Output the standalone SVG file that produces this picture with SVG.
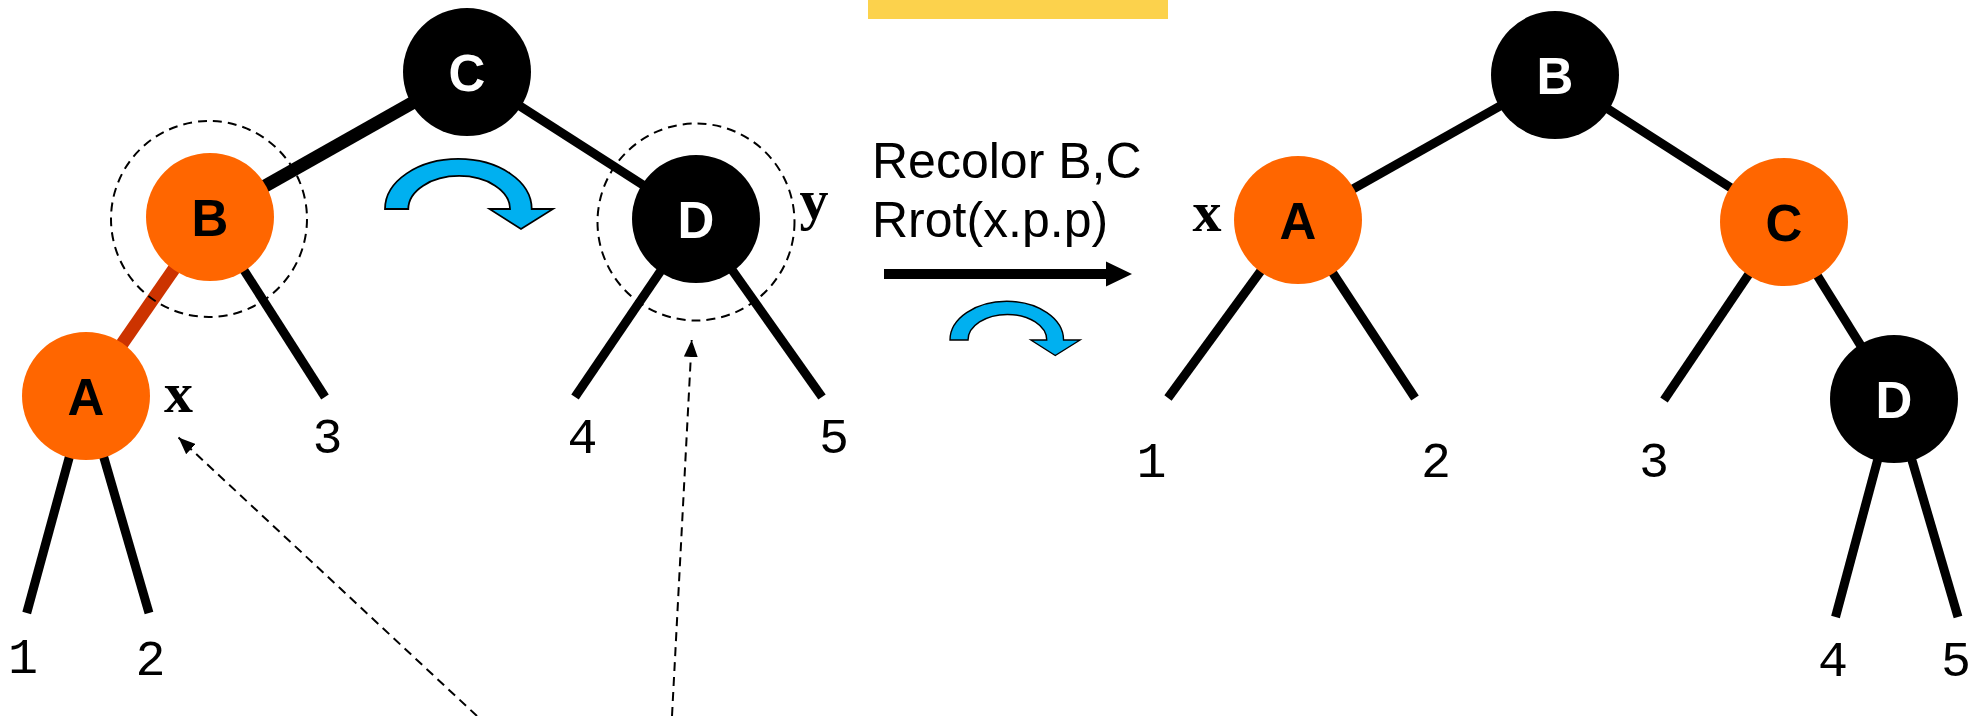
<svg xmlns="http://www.w3.org/2000/svg" width="1975" height="716" viewBox="0 0 1975 716">
<style>
.edge{stroke:#000;stroke-width:9;fill:none}
.red{fill:#FF6600}
.blk{fill:#000}
.lw{font-family:"Liberation Sans",Arial,sans-serif;font-weight:bold;font-size:51px;text-anchor:middle;fill:#fff}
.lb{font-family:"Liberation Sans",Arial,sans-serif;font-weight:bold;font-size:51px;text-anchor:middle;fill:#000}
.num{font-family:'Liberation Mono','Courier New',monospace;font-size:50px;text-anchor:middle;fill:#000}
.var{font-family:'Liberation Serif','Times New Roman',serif;font-weight:bold;font-size:58px;text-anchor:middle;fill:#000}
.op{font-family:"Liberation Sans",Arial,sans-serif;font-size:50px;fill:#000}
.halo{fill:none;stroke:#000;stroke-width:2;stroke-dasharray:9 6}
.ptr{stroke:#000;stroke-width:2;stroke-dasharray:9 6;fill:none;marker-end:url(#ah)}
.rot{fill:#00B0F0;stroke:#000;stroke-width:1.8}
</style>
<defs>
<marker id="ah" markerUnits="userSpaceOnUse" markerWidth="18" markerHeight="14" refX="17" refY="7" orient="auto">
<path d="M0,0 L17,7 L0,14 Z" fill="#000"/>
</marker>
<path id="rotarrow" d="M0,0 A73.3,50 0 0 1 146.7,0 L168,0 L136,20 L104.5,0 L125,0 A50.8,33 0 0 0 23.3,0 Z"/>
</defs>
<rect x="868" y="0" width="300" height="19" fill="#FCD24C"/>
<g id="connectors">
<line x1="467" y1="72" x2="210" y2="217" stroke="#000" stroke-width="13"/>
<line class="edge" x1="467" y1="72" x2="696" y2="219"/>
<line x1="210" y1="217" x2="86" y2="396" stroke="#CC3300" stroke-width="13"/>
<line class="edge" x1="210" y1="217" x2="325" y2="397"/>
<line class="edge" x1="86" y1="396" x2="26.7" y2="613"/>
<line class="edge" x1="86" y1="396" x2="149" y2="613"/>
<line class="edge" x1="696" y1="219" x2="575" y2="397"/>
<line class="edge" x1="696" y1="219" x2="822" y2="397"/>
<line class="edge" x1="1555" y1="75" x2="1298" y2="220"/>
<line class="edge" x1="1555" y1="75" x2="1784" y2="222"/>
<line class="edge" x1="1298" y1="220" x2="1168" y2="398"/>
<line class="edge" x1="1298" y1="220" x2="1415" y2="398"/>
<line class="edge" x1="1784" y1="222" x2="1664" y2="400"/>
<line class="edge" x1="1784" y1="222" x2="1894" y2="399"/>
<line class="edge" x1="1894" y1="399" x2="1835.5" y2="617"/>
<line class="edge" x1="1894" y1="399" x2="1958" y2="617"/>
</g>
<g id="left-C"><circle class="blk" cx="467" cy="72" r="64"/><text class="lw" x="467" y="91">C</text></g>
<g id="left-B"><circle class="halo" cx="209" cy="219" r="98"/><circle class="red" cx="210" cy="217" r="64"/><text class="lb" x="210" y="236">B</text></g>
<g id="left-A"><circle class="red" cx="86" cy="396" r="64"/><text class="lb" x="86" y="415">A</text><text class="var" x="178.5" y="412">x</text></g>
<g id="left-D"><circle class="halo" cx="696" cy="222" r="98.5"/><circle class="blk" cx="696" cy="219" r="64"/><text class="lw" x="696" y="238">D</text><text class="var" x="814" y="219">y</text></g>
<g id="right-B"><circle class="blk" cx="1555" cy="75" r="64"/><text class="lw" x="1555" y="94">B</text></g>
<g id="right-A"><circle class="red" cx="1298" cy="220" r="64"/><text class="lb" x="1298" y="239">A</text><text class="var" x="1207" y="231">x</text></g>
<g id="right-C"><circle class="red" cx="1784" cy="222" r="64"/><text class="lb" x="1784" y="241">C</text></g>
<g id="right-D"><circle class="blk" cx="1894" cy="399" r="64"/><text class="lw" x="1894" y="418">D</text></g>
<g id="subtrees">
<text class="num" x="23" y="673">1</text>
<text class="num" x="150.5" y="675">2</text>
<text class="num" x="327.5" y="453">3</text>
<text class="num" x="582.5" y="453">4</text>
<text class="num" x="834" y="453">5</text>
<text class="num" x="1151.5" y="477">1</text>
<text class="num" x="1436" y="477">2</text>
<text class="num" x="1654" y="477">3</text>
<text class="num" x="1833" y="676">4</text>
<text class="num" x="1956" y="676">5</text>
</g>
<g id="operation">
<text class="op" x="872" y="178">Recolor B,C</text>
<text class="op" x="872" y="237">Rrot(x.p.p)</text>
<path d="M884,269 L1106,269 L1106,261.5 L1132,274 L1106,286.5 L1106,279 L884,279 Z" fill="#000"/>
<use href="#rotarrow" class="rot" transform="translate(950,340) scale(0.774)"/>
</g>
<g id="rotation-hint"><use href="#rotarrow" class="rot" transform="translate(385,209)"/></g>
<g id="pointers">
<line class="ptr" x1="477" y1="716" x2="178.5" y2="437.5"/>
<line class="ptr" x1="672" y1="716" x2="691.7" y2="340"/>
</g>
</svg>
